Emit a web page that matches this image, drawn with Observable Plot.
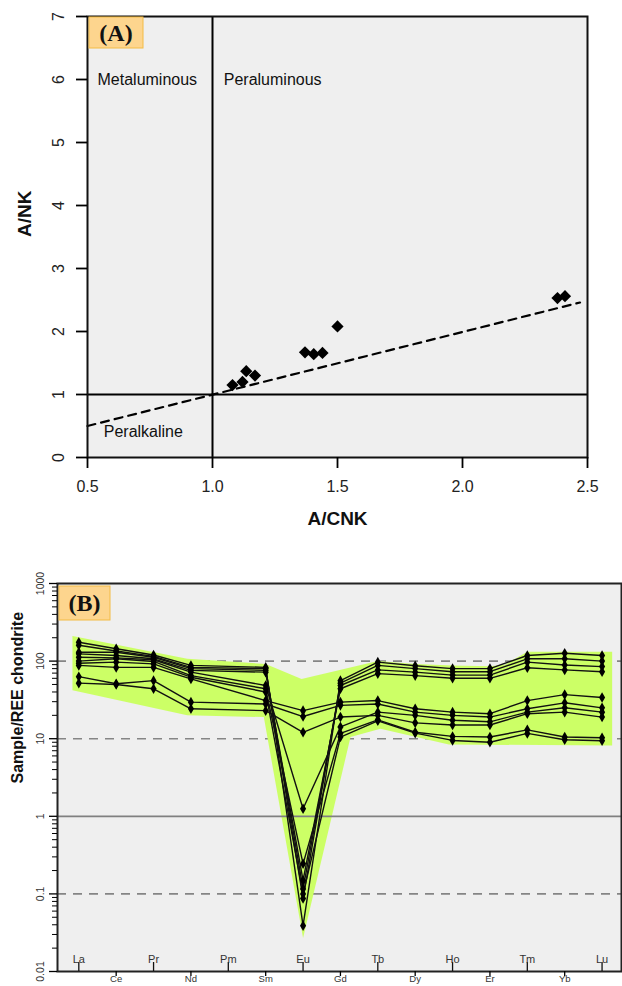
<!DOCTYPE html>
<html>
<head>
<meta charset="utf-8">
<script src="https://cdn.jsdelivr.net/npm/d3@7"></script>
<script src="https://cdn.jsdelivr.net/npm/@observablehq/plot@0.6"></script>
<style>
  html, body { margin: 0; padding: 0; background: #fff; }
  svg { display: block; }
</style>
</head>
<body>
<div id="chart"></div>
<script>
// ---------- Panel A data ----------
const acnk = [1.08, 1.12, 1.135, 1.17, 1.37, 1.405, 1.44, 1.50, 2.38, 2.41];
const ank  = [1.15, 1.20, 1.37, 1.30, 1.67, 1.64, 1.66, 2.08, 2.53, 2.56];
const boundaryX = [0.5, 2.47];
const boundaryY = [0.5, 2.46];
const xTicksA = [0.5, 1.0, 1.5, 2.0, 2.5];
const yTicksA = [0, 1, 2, 3, 4, 5, 6, 7];
const fieldNames = ["Metaluminous", "Peraluminous", "Peralkaline"];
const fieldX = [0.54, 1.045, 0.565];
const fieldY = [6, 6, 0.4];

// ---------- Panel B data ----------
const elements = ["La","Ce","Pr","Nd","Pm","Sm","Eu","Gd","Tb","Dy","Ho","Er","Tm","Yb","Lu"];
const s1  = [175, 144, 120, 88,   null, 83,   0.039, 56,   97,   87,   80,   80,   118,  126,  118];
const s2  = [160, 135, 115, 83,   null, 80,   0.087, 52,   88,   80,   73,   73,   107,  107,  100];
const s3  = [130, 130, 112, 80,   null, 76,   0.116, 48.5, 77,   72,   66,   66,   97,   89,   85];
const s4  = [124, 118, 107, 76,   null, 72,   0.149, 44,   69,   65,   60,   60,   82,   77,   73];
const s5  = [112, 110, 104, 72,   null, 48.5, 1.25,  14.2, 22,   20,   17.3, 16.5, 22,   25,   22];
const s6  = [100, 107, 99,  65,   null, 44,   0.244, 11.7, 17.5, 12.1, 10.7, 10.5, 13,   10.5, 10.3];
const s7  = [94,  97,  92,  62,   null, 40,   0.10,  10.5, 17,   11.8, 9.5,  9,    11.7, 9.7,  9.4];
const s8  = [88,  83,  83,  59,   null, 31,   23,    29.6, 31,   24.3, 22,   21,   31,   37,   34];
const s9  = [63,  51,  56,  29.6, null, 28,   19.3,  26.9, 28,   22,   20,   19,   24.3, 29,   25];
const s10 = [52,  50,  44,  24.3, null, 23,   12.1,  19,   20,   16,   15,   15,   21,   22,   19];
const envUpperX = [0.83, 3.9, 6, 6.96, 9, 10, 11, 12, 12.4, 13, 15.27];
const envUpperY = [210, 107, 92, 59, 100, 92, 88, 86, 90, 132, 132];
const envLowerX = [15.27, 10.9, 9.07, 8.27, 7, 5.95, 3.9, 0.83];
const envLowerY = [8.2, 8.4, 13.4, 10.5, 0.027, 19, 20, 42];
const yMajorB = [0.01, 0.1, 1, 10, 100, 1000];

// ---------- build tables ----------
const ptsA = acnk.map((x, i) => ({x, y: ank[i]}));
const boundary = boundaryX.map((x, i) => ({x, y: boundaryY[i]}));
const fields = fieldNames.map((t, i) => ({t, x: fieldX[i], y: fieldY[i]}));

const samples = [s1, s2, s3, s4, s5, s6, s7, s8, s9, s10];
const ree = samples.flatMap((vals, si) =>
  vals.map((v, i) => ({s: si, x: i + 1, v})).filter(d => d.v != null));
const envelope = envUpperX.map((x, i) => ({x, y: envUpperY[i]}))
  .concat(envLowerX.map((x, i) => ({x, y: envLowerY[i]})));
const yMinorB = [];
for (let k = -2; k < 3; k++) for (let m = 2; m <= 9; m++) yMinorB.push(m * Math.pow(10, k));
const idx = elements.map((e, i) => i + 1);
const oddIdx = idx.filter(i => i % 2 === 1);
const evenIdx = idx.filter(i => i % 2 === 0);

const sq = d3.symbolDiamond2 || "diamond";
const font = "'Liberation Sans', Arial, Helvetica, sans-serif";

function addBadge(svg, x, y, w, h, label) {
  const g = d3.select(svg).append("g");
  g.append("rect").attr("x", x).attr("y", y).attr("width", w).attr("height", h)
    .attr("fill", "#fdd58e").attr("stroke", "#f3bb45").attr("stroke-width", 1);
  g.append("text").attr("x", x + w / 2).attr("y", y + h / 2).attr("dy", "0.35em")
    .attr("text-anchor", "middle").attr("font-family", "'Liberation Serif', 'Times New Roman', serif")
    .attr("font-weight", "bold").attr("font-size", 24).attr("fill", "#111").text(label);
}

// ---------- Panel A ----------
const plotA = Plot.plot({
  width: 622, height: 540,
  marginLeft: 87, marginRight: 35, marginTop: 16, marginBottom: 83,
  style: {fontFamily: font, fontSize: "16px", color: "#000", background: "#fff"},
  x: {domain: [0.5, 2.5], label: null},
  y: {domain: [0, 7], label: null},
  marks: [
    Plot.frame({fill: "#efefef"}),
    Plot.ruleX([1], {stroke: "#000", strokeWidth: 2}),
    Plot.ruleY([1], {stroke: "#000", strokeWidth: 2}),
    Plot.line(boundary, {x: "x", y: "y", stroke: "#000", strokeWidth: 2.2, strokeDasharray: "8,6"}),
    Plot.dot(ptsA, {x: "x", y: "y", symbol: sq, r: 5.5, fill: "#000", stroke: "none"}),
    Plot.text(fields, {x: "x", y: "y", text: "t", textAnchor: "start", fontSize: 16, fill: "#111"}),
    Plot.frame({stroke: "#111", strokeWidth: 2}),
    Plot.axisX({ticks: xTicksA, tickSize: 11, tickPadding: 12, strokeWidth: 1.8,
      tickFormat: d3.format(".1f"), label: null, fontSize: 16, fill: "#222"}),
    Plot.axisY({ticks: yTicksA, tickSize: 11, tickPadding: 13, strokeWidth: 1.8,
      tickRotate: -90, tickFormat: d3.format("d"), label: null, fontSize: 16, fill: "#222"}),
    Plot.text(["A/CNK"], {frameAnchor: "bottom", dy: 67, fontWeight: "bold", fontSize: 19, fill: "#111"}),
    Plot.text(["A/NK"], {frameAnchor: "left", dx: -63, rotate: -90, fontWeight: "bold", fontSize: 19, fill: "#111"})
  ]
});
addBadge(plotA, 89, 17, 54, 31, "(A)");

// ---------- Panel B ----------
const plotB = Plot.plot({
  width: 622, height: 446,
  marginLeft: 57, marginRight: 1, marginTop: 43, marginBottom: 15,
  style: {fontFamily: font, fontSize: "11px", color: "#000", background: "#fff"},
  x: {domain: [0.43, 15.52], label: null},
  y: {type: "log", domain: [0.01, 1000], label: null},
  marks: [
    Plot.frame({fill: "#efefef"}),
    Plot.ruleY([100, 10, 0.1], {stroke: "#858585", strokeWidth: 1.6, strokeDasharray: "9,7"}),
    Plot.line(envelope, {x: "x", y: "y", fill: "#ccff66", stroke: "none"}),
    Plot.ruleY([1], {stroke: "#808080", strokeWidth: 1.8}),
    Plot.line(ree, {x: "x", y: "v", z: "s", stroke: "#111", strokeWidth: 1.4}),
    Plot.dot(ree, {x: "x", y: "v", symbol: "diamond", r: 3.2, fill: "#000", stroke: "none"}),
    Plot.frame({stroke: "#222", strokeWidth: 2}),
    Plot.axisY({ticks: yMinorB, tickSize: 5, tickFormat: () => "", label: null, strokeWidth: 1}),
    Plot.axisY({ticks: yMajorB, tickSize: 8, tickPadding: 6, tickRotate: -90, strokeWidth: 1.3,
      tickFormat: d => String(d), label: null, fontSize: 10.5, fill: "#333"}),
    Plot.axisX({ticks: evenIdx, tickSize: 5, tickPadding: -1, strokeWidth: 1.3,
      tickFormat: i => elements[i - 1], label: null, fontSize: 9.5, fill: "#333"}),
    Plot.tickX(oddIdx, {x: d => d, insetTop: 379, stroke: "#111", strokeWidth: 1.3}),
    Plot.text(oddIdx, {x: d => d, text: i => elements[i - 1], frameAnchor: "bottom",
      dy: -9, lineAnchor: "bottom", fontSize: 11, fill: "#333"}),
    Plot.text(["Sample/REE chondrite"], {frameAnchor: "left", dx: -40, dy: 6, rotate: -90,
      fontWeight: "bold", fontSize: 16, fill: "#111"})
  ]
});
addBadge(plotB, 59, 586 - 540, 51, 34, "(B)");

const chart = document.getElementById("chart");
chart.appendChild(plotA);
chart.appendChild(plotB);
</script>
</body>
</html>
